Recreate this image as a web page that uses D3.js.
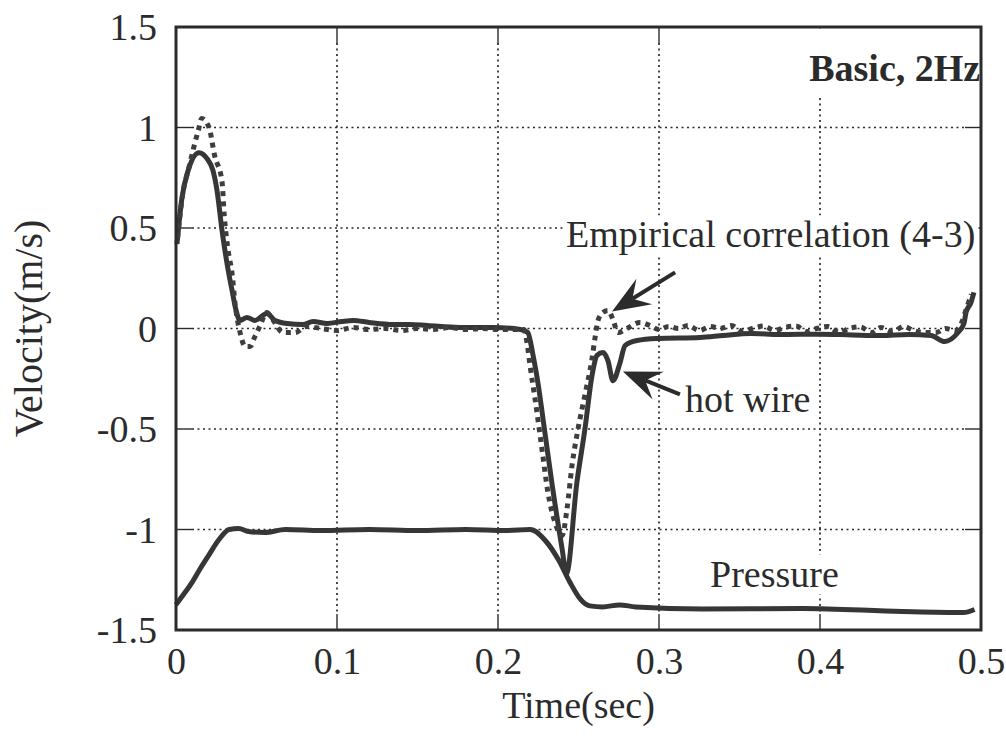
<!DOCTYPE html>
<html><head><meta charset="utf-8">
<script src="https://cdn.jsdelivr.net/npm/d3@7/dist/d3.min.js"></script>
<style>
body{margin:0;background:#fff}
svg{display:block}
text{font-family:"Liberation Serif","Times New Roman",serif;fill:#2b2b2b}
</style>
</head><body>
<svg id="chart" width="1006" height="749"></svg>
<script>
// ---------- data ----------
const xTicks = [0, 0.1, 0.2, 0.3, 0.4, 0.5];
const xTickLabels = ["0", "0.1", "0.2", "0.3", "0.4", "0.5"];
const yTicks = [-1.5, -1, -0.5, 0, 0.5, 1, 1.5];
const yTickLabels = ["-1.5", "-1", "-0.5", "0", "0.5", "1", "1.5"];
const xTitle = "Time(sec)";
const yTitle = "Velocity(m/s)";

// hot wire (solid)
const hotWireT = [0.0006,0.0037,0.0075,0.0143,0.0193,0.023,0.0255,0.0286,0.0317,0.0348,0.0373,0.0398,0.0441,0.049,0.0565,0.0615,0.069,0.0789,0.0851,0.094,0.103,0.11,0.12,0.135,0.145,0.156,0.176,0.197,0.214,0.2185,0.2217,0.2248,0.229,0.2335,0.2398,0.2425,0.249,0.254,0.2584,0.2615,0.2652,0.2683,0.2714,0.2758,0.2789,0.2863,0.2988,0.3255,0.34,0.357,0.375,0.40,0.42,0.438,0.455,0.469,0.4775,0.4857,0.4894,0.4907,0.4938,0.4956];
const hotWireV = [0.42,0.65,0.785,0.875,0.845,0.785,0.685,0.487,0.323,0.19,0.09,0.04,0.055,0.04,0.075,0.04,0.025,0.02,0.035,0.025,0.035,0.04,0.03,0.02,0.02,0.015,0.005,0.005,-0.005,-0.02,-0.13,-0.27,-0.51,-0.77,-1.095,-1.22,-0.766,-0.5,-0.234,-0.134,-0.12,-0.16,-0.26,-0.17,-0.085,-0.06,-0.05,-0.045,-0.035,-0.025,-0.03,-0.028,-0.032,-0.035,-0.03,-0.035,-0.065,-0.02,0.025,0.08,0.13,0.18];

// empirical correlation (4-3) (dotted)
const empiricalT = [0.001,0.004,0.008,0.011,0.014,0.016,0.0205,0.024,0.0286,0.030,0.032,0.035,0.0366,0.0398,0.043,0.046,0.049,0.052,0.0565,0.060,0.0665,0.074,0.081,0.09,0.1,0.11,0.12,0.13,0.14,0.15,0.16,0.17,0.18,0.19,0.2,0.2161,0.218,0.2199,0.223,0.2273,0.231,0.2354,0.2398,0.2429,0.246,0.2497,0.254,0.2584,0.2602,0.2621,0.2652,0.2683,0.2714,0.2745,0.2801,0.2882,0.2944,0.3,0.306,0.312,0.318,0.325,0.332,0.338,0.345,0.352,0.358,0.365,0.372,0.378,0.385,0.392,0.398,0.405,0.412,0.418,0.425,0.432,0.438,0.445,0.452,0.458,0.465,0.472,0.478,0.484,0.488,0.491,0.494];
const empiricalV = [0.45,0.66,0.8,0.9,0.99,1.045,1.0,0.86,0.73,0.56,0.41,0.26,0.13,-0.02,-0.09,-0.09,-0.04,0.01,0.08,0.045,-0.02,-0.02,0.01,0.0,-0.01,0.005,-0.005,0.0,-0.01,0.0,-0.005,0.005,-0.005,0.0,-0.005,-0.005,-0.07,-0.185,-0.35,-0.6,-0.815,-0.965,-1.03,-0.895,-0.68,-0.5,-0.33,-0.15,-0.05,0.04,0.08,0.09,0.045,-0.02,0.0,0.03,0.015,-0.005,0.01,0.0,0.015,-0.01,0.01,0.0,0.015,-0.015,0.0,0.012,-0.01,0.005,0.012,-0.015,0.0,0.01,-0.02,0.0,0.008,-0.02,0.005,-0.015,0.01,-0.01,-0.02,-0.02,0.0,-0.01,0.03,0.1,0.17];

// pressure (solid)
const pressureT = [0,0.005,0.010,0.015,0.0205,0.0267,0.033,0.039,0.045,0.055,0.068,0.09,0.12,0.15,0.18,0.205,0.22,0.2295,0.238,0.2445,0.251,0.257,0.265,0.2755,0.2855,0.327,0.389,0.451,0.489,0.496];
const pressureV = [-1.374,-1.32,-1.263,-1.195,-1.126,-1.05,-1.0,-0.995,-1.01,-1.015,-1.0,-1.005,-1.0,-1.005,-1.0,-1.005,-1.0,-1.056,-1.157,-1.26,-1.345,-1.38,-1.385,-1.375,-1.385,-1.395,-1.393,-1.408,-1.413,-1.398];

// annotations (data units)
const labelTexts = ["Empirical correlation (4-3)", "hot wire", "Pressure"];
const labelT = [0.2422, 0.3161, 0.3317];
const labelV = [0.403, -0.413, -1.284];
const titleText = "Basic, 2Hz";
const titleT = 0.4995, titleV = 1.229;
const arrowTailT = [0.31, 0.313];
const arrowTailV = [0.279, -0.328];
const arrowTipT = [0.2708, 0.2776];
const arrowTipV = [0.085, -0.214];

// ---------- drawing ----------
const svg = d3.select("#chart");
const x = d3.scaleLinear().domain([0, 0.5]).range([176, 981]);
const y = d3.scaleLinear().domain([-1.5, 1.5]).range([630, 27]);
const ink = "#2b2b2b", lineInk = "#363636";
const X0 = x(0), X1 = x(0.5), Y0 = y(-1.5), Y1 = y(1.5);
const tick = 16;

const grid = svg.append("g");
xTicks.slice(1, -1).forEach(t => {
  grid.append("line").attr("x1", x(t)).attr("x2", x(t)).attr("y1", Y1 + tick).attr("y2", Y0 - tick)
    .attr("stroke", ink).attr("stroke-width", 1.7).attr("stroke-dasharray", "2,3.5");
  grid.append("line").attr("x1", x(t)).attr("x2", x(t)).attr("y1", Y0).attr("y2", Y0 - tick).attr("stroke", ink).attr("stroke-width", 1.4);
  grid.append("line").attr("x1", x(t)).attr("x2", x(t)).attr("y1", Y1).attr("y2", Y1 + tick).attr("stroke", ink).attr("stroke-width", 1.4);
});
yTicks.slice(1, -1).forEach(v => {
  grid.append("line").attr("x1", X0 + tick).attr("x2", X1 - tick).attr("y1", y(v)).attr("y2", y(v))
    .attr("stroke", ink).attr("stroke-width", 1.7).attr("stroke-dasharray", "2,3.5");
  grid.append("line").attr("x1", X0).attr("x2", X0 + tick).attr("y1", y(v)).attr("y2", y(v)).attr("stroke", ink).attr("stroke-width", 1.4);
  grid.append("line").attr("x1", X1).attr("x2", X1 - tick).attr("y1", y(v)).attr("y2", y(v)).attr("stroke", ink).attr("stroke-width", 1.4);
});

// text masks + texts
const ann = svg.append("g");
labelTexts.forEach((s, i) => {
  const g = ann.append("g");
  const r = g.append("rect").attr("fill", "#fff");
  const t = g.append("text").attr("x", x(labelT[i])).attr("y", y(labelV[i])).attr("font-size", 38).text(s);
  const b = t.node().getBBox();
  r.attr("x", b.x - 3).attr("y", b.y + 2).attr("width", Math.min(b.width + 6, X1 - 1.5 - (b.x - 3))).attr("height", b.height - 2);
});
{
  const g = ann.append("g");
  const r = g.append("rect").attr("fill", "#fff");
  const t = g.append("text").attr("x", x(titleT)).attr("y", y(titleV)).attr("font-size", 38)
    .attr("font-weight", "bold").attr("text-anchor", "end").text(titleText);
  const b = t.node().getBBox();
  r.attr("x", b.x - 4).attr("y", Y1 + 1.5).attr("width", X1 - 1.5 - (b.x - 4)).attr("height", b.y + b.height + 4 - Y1);
}

// series
const mk = (T, V) => T.map((t, i) => [t, V[i]]);
const line = d3.line().x(d => x(d[0])).y(d => y(d[1])).curve(d3.curveMonotoneX);
svg.append("path").datum(mk(pressureT, pressureV)).attr("d", line)
  .attr("fill", "none").attr("stroke", lineInk).attr("stroke-width", 5).attr("stroke-linejoin", "round");
svg.append("path").datum(mk(hotWireT, hotWireV)).attr("d", line)
  .attr("fill", "none").attr("stroke", lineInk).attr("stroke-width", 5).attr("stroke-linejoin", "round");
svg.append("path").datum(mk(empiricalT, empiricalV)).attr("d", line)
  .attr("fill", "none").attr("stroke", "#3e3e3e").attr("stroke-width", 5).attr("stroke-dasharray", "5,5");

// arrows
function arrowHead(x1, y1, x2, y2, L, W, N) {
  const dx = x2 - x1, dy = y2 - y1, len = Math.hypot(dx, dy), ux = dx / len, uy = dy / len, nx = -uy, ny = ux;
  const bx = x2 - ux * L, by = y2 - uy * L;
  return {
    d: `M${x2},${y2}L${bx + nx * W},${by + ny * W}L${x2 - ux * N},${y2 - uy * N}L${bx - nx * W},${by - ny * W}Z`,
    nx: x2 - ux * N, ny: y2 - uy * N
  };
}
arrowTailT.forEach((_, i) => {
  const x1 = x(arrowTailT[i]), y1 = y(arrowTailV[i]), x2 = x(arrowTipT[i]), y2 = y(arrowTipV[i]);
  const h = arrowHead(x1, y1, x2, y2, 38, 15, 24);
  svg.append("line").attr("x1", x1).attr("y1", y1).attr("x2", h.nx).attr("y2", h.ny).attr("stroke", ink).attr("stroke-width", 4);
  svg.append("path").attr("d", h.d).attr("fill", ink);
});

// frame
svg.append("rect").attr("x", X0).attr("y", Y1).attr("width", X1 - X0).attr("height", Y0 - Y1)
  .attr("fill", "none").attr("stroke", ink).attr("stroke-width", 3);

// axes labels via d3 axes
const xAxis = d3.axisBottom(x).tickValues(xTicks).tickFormat((d, i) => xTickLabels[i]).tickSize(0).tickPadding(0);
const gx = svg.append("g").attr("transform", `translate(0,${Y0})`).call(xAxis);
gx.select(".domain").remove();
gx.selectAll("text").attr("font-size", 38).attr("dy", null).attr("y", 44).style("font-family", '"Liberation Serif",serif').attr("fill", ink);

const yAxis = d3.axisLeft(y).tickValues(yTicks).tickFormat((d, i) => yTickLabels[i]).tickSize(0).tickPadding(19);
const gy = svg.append("g").attr("transform", `translate(${X0},0)`).call(yAxis);
gy.select(".domain").remove();
gy.selectAll("text").attr("font-size", 38).attr("dy", "0.33em").style("font-family", '"Liberation Serif",serif').attr("fill", ink);

svg.append("text").attr("x", (X0 + X1) / 2).attr("y", 718).attr("text-anchor", "middle").attr("font-size", 38).text(xTitle);
svg.append("text").attr("transform", `translate(42,${(Y0 + Y1) / 2}) rotate(-90)`).attr("text-anchor", "middle").attr("font-size", 40).text(yTitle);
</script>
</body></html>
